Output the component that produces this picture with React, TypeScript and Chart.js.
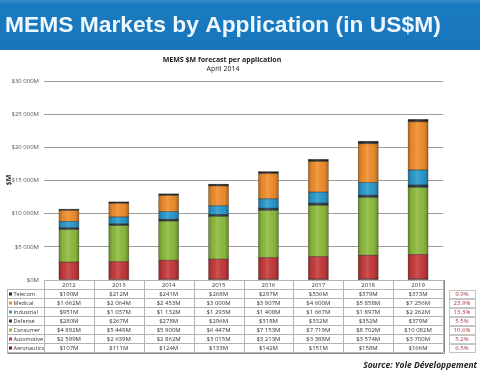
import React, { useEffect, useRef } from "react";
import { Chart, registerables } from "chart.js";

Chart.register(...registerables);

const years = ["2012", "2013", "2014", "2015", "2016", "2017", "2018", "2019"];
const telecom = [190, 212, 241, 268, 297, 336, 379, 373];
const medical = [1662, 2064, 2453, 3000, 3807, 4600, 5858, 7256];
const industrial = [951, 1037, 1132, 1293, 1408, 1667, 1897, 2262];
const defense = [280, 267, 278, 296, 318, 332, 352, 379];
const consumer = [4892, 5449, 5900, 6447, 7153, 7719, 8702, 10082];
const automotive = [2599, 2639, 2862, 3015, 3213, 3388, 3574, 3700];
const aeronautics = [107, 111, 124, 133, 142, 151, 158, 166];
const cagr = ["9.9%", "23.9%", "13.3%", "5.5%", "10.6%", "5.2%", "6.5%"];
const yTicks = [0, 5000, 10000, 15000, 20000, 25000, 30000];

const fmt = (n: number) => {
  if (n >= 1000) {
    const th = Math.floor(n / 1000);
    const rest = String(n % 1000).padStart(3, "0");
    return `$${th} ${rest}M`;
  }
  return `$${n}M`;
};

// table rows (top to bottom); stack order is the reverse (bottom to top)
const rows = [
  { name: "Telecom", data: telecom, color: "#2a2426" },
  { name: "Medical", data: medical, color: "#f28f2c" },
  { name: "Industrial", data: industrial, color: "#2b9ccf" },
  { name: "Defense", data: defense, color: "#2d3b4c" },
  { name: "Consumer", data: consumer, color: "#8fbd3e" },
  { name: "Automotive", data: automotive, color: "#c73b3c" },
  { name: "Aeronautics", data: aeronautics, color: "#6e1c1f" },
];

const FONT = "'Open Sans', 'Liberation Sans', sans-serif";

const decorPlugin = {
  id: "decor",
  beforeDraw(chart: any) {
    const ctx = chart.ctx as CanvasRenderingContext2D;
    ctx.save();
    ctx.fillStyle = "#ffffff";
    ctx.fillRect(0, 0, chart.width, chart.height);
    const g = ctx.createLinearGradient(0, 0, 0, 50);
    g.addColorStop(0, "#3a8fcc");
    g.addColorStop(0.08, "#1b7bc0");
    g.addColorStop(1, "#1776bb");
    ctx.fillStyle = g;
    ctx.fillRect(0, 0, chart.width, 50);
    ctx.fillStyle = "#eef7fd";
    ctx.font = "bold 22.8px 'Liberation Sans', Arial, sans-serif";
    ctx.textBaseline = "alphabetic";
    ctx.textAlign = "left";
    ctx.fillText("MEMS Markets by Application (in US$M)", 5, 32);
    ctx.fillStyle = "#222";
    ctx.textAlign = "center";
    ctx.font = `bold 7px ${FONT}`;
    ctx.fillText("MEMS $M forecast per application", 222, 62);
    ctx.font = `7px ${FONT}`;
    ctx.fillText("April 2014", 223, 71);
    ctx.save();
    ctx.translate(11, 180);
    ctx.rotate(-Math.PI / 2);
    ctx.font = `bold 7px ${FONT}`;
    ctx.fillStyle = "#333";
    ctx.textAlign = "center";
    ctx.fillText("$M", 0, 0);
    ctx.restore();
    ctx.restore();
  },
  afterDatasetsDraw(chart: any) {
    const ctx = chart.ctx as CanvasRenderingContext2D;
    ctx.save();
    chart.data.datasets.forEach((_: any, di: number) => {
      const meta = chart.getDatasetMeta(di);
      meta.data.forEach((bar: any) => {
        const { x, y, base, width } = bar.getProps(["x", "y", "base", "width"], true);
        const l = x - width / 2;
        const r = x + width / 2;
        const t = Math.min(y, base);
        const h = Math.abs(base - y);
        const g = ctx.createLinearGradient(l, 0, r, 0);
        g.addColorStop(0, "rgba(0,0,0,0.28)");
        g.addColorStop(0.18, "rgba(0,0,0,0.05)");
        g.addColorStop(0.45, "rgba(255,255,255,0.12)");
        g.addColorStop(0.8, "rgba(0,0,0,0.04)");
        g.addColorStop(1, "rgba(0,0,0,0.3)");
        ctx.fillStyle = g;
        ctx.fillRect(l, t, width, h);
        ctx.strokeStyle = "rgba(30,30,30,0.45)";
        ctx.lineWidth = 0.6;
        ctx.strokeRect(l, t, width, h);
      });
    });
    ctx.restore();
  },
  afterDraw(chart: any) {
    const ctx = chart.ctx as CanvasRenderingContext2D;
    const x = chart.scales.x;
    const area = chart.chartArea;
    const top = area.bottom;
    const rowH = 9;
    const colW = x.getPixelForValue(1) - x.getPixelForValue(0);
    const left = x.getPixelForValue(0) - colW / 2;
    const right = x.getPixelForValue(years.length - 1) + colW / 2;
    const labL = 7;
    ctx.save();
    ctx.lineWidth = 1;
    ctx.strokeStyle = "#b4b4b4";
    ctx.fillStyle = "#ffffff";
    ctx.fillRect(left, top, right - left, rowH * 8);
    ctx.fillRect(labL, top + rowH, left - labL, rowH * 7);
    for (let r = 0; r <= 8; r++) {
      const y = Math.round(top + r * rowH) + 0.5;
      ctx.beginPath();
      ctx.moveTo(r === 0 ? left : labL, y);
      ctx.lineTo(right, y);
      ctx.stroke();
    }
    for (let c = 0; c <= years.length; c++) {
      const xx = Math.round(left + c * colW) + 0.5;
      ctx.beginPath();
      ctx.moveTo(xx, top);
      ctx.lineTo(xx, top + rowH * 8);
      ctx.stroke();
    }
    ctx.beginPath();
    ctx.moveTo(labL + 0.5, top + rowH);
    ctx.lineTo(labL + 0.5, top + rowH * 8);
    ctx.stroke();
    ctx.strokeStyle = "#8a8a8a";
    ctx.beginPath();
    ctx.moveTo(labL + 0.5, top + rowH * 8 + 1.5);
    ctx.lineTo(right + 1.5, top + rowH * 8 + 1.5);
    ctx.lineTo(right + 1.5, top);
    ctx.stroke();

    ctx.textBaseline = "middle";
    ctx.textAlign = "center";
    ctx.fillStyle = "#333";
    ctx.font = `6px ${FONT}`;
    years.forEach((yr, i) => {
      ctx.fillText(yr, x.getPixelForValue(i), top + rowH / 2 + 0.5);
    });
    rows.forEach((row, r) => {
      const cy = top + rowH * (r + 1) + rowH / 2 + 0.5;
      ctx.fillStyle = row.color;
      ctx.fillRect(labL + 2, cy - 1.5, 3, 3);
      ctx.fillStyle = "#333";
      ctx.textAlign = "left";
      ctx.font = `5.5px ${FONT}`;
      ctx.fillText(row.name, labL + 6.5, cy);
      ctx.textAlign = "center";
      ctx.font = `6px ${FONT}`;
      row.data.forEach((v, i) => {
        ctx.fillText(fmt(v), x.getPixelForValue(i), cy);
      });
    });
    const cL = 449;
    const cR = 475;
    cagr.forEach((c, r) => {
      const y0 = top + rowH * (r + 1) + 1;
      ctx.fillStyle = "#ffffff";
      ctx.fillRect(cL, y0, cR - cL, rowH - 1);
      ctx.strokeStyle = "#c4c4c4";
      ctx.strokeRect(cL + 0.5, y0 + 0.5, cR - cL, rowH - 1);
      ctx.fillStyle = "#a8383a";
      ctx.textAlign = "center";
      ctx.fillText(c, (cL + cR) / 2, y0 + rowH / 2);
    });
    ctx.fillStyle = "#1e1e1e";
    ctx.textAlign = "right";
    ctx.textBaseline = "alphabetic";
    ctx.font = `italic bold 8.5px ${FONT}`;
    ctx.fillText("Source: Yole Développement", 477, 368);
    ctx.restore();
  },
};

export default function App() {
  const ref = useRef<HTMLCanvasElement | null>(null);
  useEffect(() => {
    if (!ref.current) return;
    const stack = [...rows].reverse();
    const chart = new Chart(ref.current, {
      type: "bar",
      data: {
        labels: years,
        datasets: stack.map((r) => ({
          label: r.name,
          data: r.data,
          backgroundColor: r.color,
          borderWidth: 0,
          barPercentage: 0.4,
          categoryPercentage: 1,
        })),
      },
      options: {
        responsive: false,
        animation: false,
        devicePixelRatio: 1,
        layout: { padding: { top: 81, bottom: 90, left: 0, right: 37 } },
        plugins: { legend: { display: false }, tooltip: { enabled: false }, title: { display: false } },
        scales: {
          x: { stacked: true, display: false, offset: true },
          y: {
            stacked: true,
            min: 0,
            max: 30000,
            afterFit: (s: any) => {
              s.width = 44;
            },
            afterBuildTicks: (s: any) => {
              s.ticks = yTicks.map((v) => ({ value: v }));
            },
            ticks: {
              padding: 5,
              color: "#555",
              font: { size: 6, family: FONT },
              callback: (v: any) => (v === 0 ? "$0M" : fmt(Number(v))),
            },
            grid: { color: "#9d9d9d", lineWidth: 1, drawTicks: false },
            border: { display: false },
          },
        },
      },
      plugins: [decorPlugin],
    });
    return () => chart.destroy();
  }, []);
  return (
    <div style={{ position: "fixed", left: 0, top: 0, width: 480, height: 370, background: "#fff" }}>
      <canvas ref={ref} width={480} height={370} style={{ display: "block" }} />
    </div>
  );
}
